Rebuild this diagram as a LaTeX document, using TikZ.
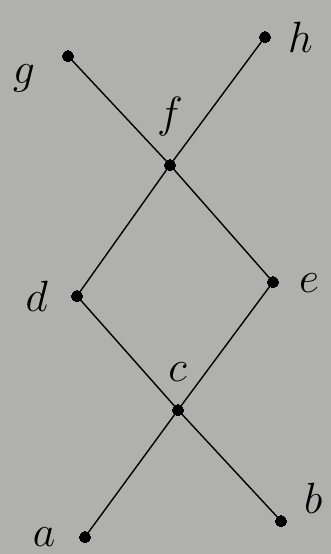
\documentclass[tikz,border=0pt]{standalone}
\usepackage{amsmath}
\usepackage{tikz-network}
\definecolor{paper}{RGB}{176,176,174}
\pagecolor{paper}

\begin{document}
\begin{tikzpicture}
  \useasboundingbox (0,0) rectangle (6.62,11.08);
  \SetDistanceScale{1}
  \SetVertexStyle[Shape=circle, MinSize=0.22, FillColor=black, LineColor=black, LineWidth=0pt, TextFont={\fontsize{24}{28}\selectfont}]
  \SetEdgeStyle[LineWidth=0.8pt, Color=black]
  \Vertex[x=1.70,y=0.34,  size=0.22, label=a, Math, position=180, distance=0.36cm]{a}
  \Vertex[x=5.62,y=0.66,  size=0.22, label=b, Math, position=3,   distance=0.23cm]{b}
  \Vertex[x=3.56,y=2.88,  size=0.22, label=c, Math, position=91,  distance=0.34cm]{c}
  \Vertex[x=1.54,y=5.16,  size=0.22, label=d, Math, position=180, distance=0.35cm]{d}
  \Vertex[x=5.46,y=5.44,  size=0.22, label=e, Math, position=358, distance=0.29cm]{e}
  \Vertex[x=3.40,y=7.78,  size=0.22, label=f, Math, position=90,  distance=0.35cm]{f}
  \Vertex[x=1.36,y=9.96,  size=0.22, label=g, Math, position=185, distance=0.43cm]{g}
  \Vertex[x=5.30,y=10.34, size=0.22, label=h, Math, position=0,   distance=0.23cm]{h}

  \Edge(a)(c)
  \Edge(b)(c)
  \Edge(c)(d)
  \Edge(c)(e)
  \Edge(d)(f)
  \Edge(e)(f)
  \Edge(f)(g)
  \Edge(f)(h)
\end{tikzpicture}
\end{document}
